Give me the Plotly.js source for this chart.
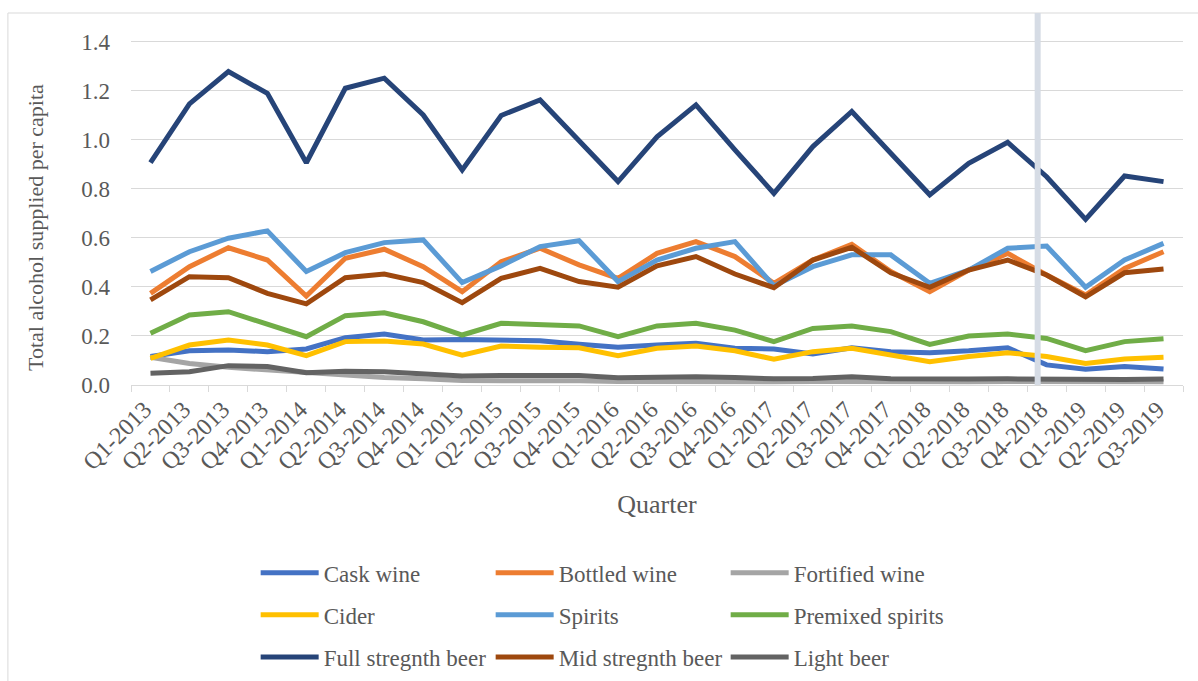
<!DOCTYPE html>
<html>
<head>
<meta charset="utf-8">
<script src="https://cdn.plot.ly/plotly-3.0.1.min.js"></script>
<style>
  html, body { margin: 0; padding: 0; background: #ffffff; }
  #chart { width: 1198px; height: 681px; }
</style>
</head>
<body>
<div id="chart"></div>
<script>
const quarters = ["Q1-2013","Q2-2013","Q3-2013","Q4-2013","Q1-2014","Q2-2014","Q3-2014","Q4-2014",
  "Q1-2015","Q2-2015","Q3-2015","Q4-2015","Q1-2016","Q2-2016","Q3-2016","Q4-2016",
  "Q1-2017","Q2-2017","Q3-2017","Q4-2017","Q1-2018","Q2-2018","Q3-2018","Q4-2018",
  "Q1-2019","Q2-2019","Q3-2019"];

const caskWine = [0.116,0.140,0.143,0.136,0.147,0.193,0.208,0.184,0.186,0.184,0.181,0.166,0.154,0.163,0.170,0.150,0.147,0.127,0.152,0.136,0.132,0.140,0.152,0.082,0.064,0.075,0.065];
const bottledWine = [0.374,0.483,0.560,0.510,0.363,0.517,0.554,0.483,0.381,0.503,0.558,0.490,0.435,0.537,0.585,0.524,0.415,0.510,0.574,0.463,0.381,0.469,0.537,0.449,0.367,0.476,0.544];
const fortifiedWine = [0.113,0.088,0.072,0.061,0.048,0.038,0.031,0.026,0.018,0.017,0.018,0.017,0.014,0.015,0.016,0.015,0.013,0.014,0.015,0.013,0.012,0.013,0.014,0.013,0.011,0.012,0.013];
const cider = [0.109,0.163,0.184,0.163,0.120,0.177,0.180,0.167,0.122,0.159,0.154,0.152,0.120,0.150,0.159,0.140,0.105,0.136,0.150,0.122,0.095,0.116,0.132,0.116,0.088,0.106,0.113];
const spirits = [0.463,0.544,0.599,0.629,0.463,0.540,0.581,0.592,0.418,0.486,0.565,0.589,0.422,0.510,0.558,0.585,0.404,0.483,0.531,0.531,0.415,0.469,0.558,0.567,0.399,0.510,0.578];
const premixedSpirits = [0.211,0.286,0.299,0.249,0.197,0.283,0.295,0.258,0.204,0.252,0.248,0.241,0.197,0.241,0.252,0.224,0.177,0.231,0.241,0.218,0.166,0.200,0.208,0.190,0.140,0.177,0.189];
const fullStrengthBeer = [0.907,1.147,1.279,1.190,0.907,1.211,1.252,1.102,0.878,1.100,1.163,1.000,0.830,1.013,1.143,0.959,0.782,0.973,1.116,0.946,0.776,0.905,0.990,0.850,0.676,0.853,0.830];
const midStrengthBeer = [0.347,0.442,0.438,0.374,0.331,0.438,0.453,0.418,0.336,0.435,0.476,0.422,0.399,0.486,0.524,0.453,0.397,0.510,0.562,0.458,0.399,0.469,0.510,0.449,0.360,0.458,0.473];
const lightBeer = [0.048,0.054,0.079,0.075,0.050,0.056,0.054,0.048,0.037,0.039,0.041,0.039,0.030,0.034,0.034,0.031,0.025,0.027,0.034,0.025,0.023,0.024,0.025,0.023,0.020,0.022,0.024];

const yTicks = [0, 0.2, 0.4, 0.6, 0.8, 1.0, 1.2, 1.4];

const seriesNames = ["Cask wine","Bottled wine","Fortified wine","Cider","Spirits","Premixed spirits","Full stregnth beer","Mid stregnth beer","Light beer"];
const seriesValues = [caskWine, bottledWine, fortifiedWine, cider, spirits, premixedSpirits, fullStrengthBeer, midStrengthBeer, lightBeer];
const seriesColors = ["#4472c4","#ed7d31","#a5a5a5","#ffc000","#5b9bd5","#70ad47","#264478","#9e480e","#636363"];
const legendIds = ["legend","legend","legend","legend2","legend2","legend2","legend3","legend3","legend3"];

const FONT = "Liberation Serif, Times New Roman, serif";
const TXT = "#595959";

const traces = seriesNames.map((name, i) => ({
  type: "scatter",
  mode: "lines",
  name: name,
  x: quarters,
  y: seriesValues[i],
  line: { color: seriesColors[i], width: 5 },
  legend: legendIds[i],
  hoverinfo: "x+y+name"
}));

function legendRow(yPaper) {
  return {
    orientation: "h",
    x: 0.1185, xanchor: "left",
    y: yPaper, yanchor: "middle",
    bgcolor: "rgba(0,0,0,0)",
    font: { family: FONT, size: 23, color: TXT },
    itemwidth: 58,
    entrywidth: 162, entrywidthmode: "pixels",
    traceorder: "normal"
  };
}

const layout = {
  width: 1198, height: 681,
  margin: { l: 131, r: 15, t: 13, b: 296, autoexpand: false },
  paper_bgcolor: "#ffffff",
  plot_bgcolor: "#ffffff",
  font: { family: FONT, color: TXT },
  showlegend: true,
  xaxis: {
    type: "category",
    range: [-0.5, 26.5],
    tickangle: -45,
    tickfont: { family: FONT, size: 24, color: TXT },
    ticklabelshift: -6,
    showgrid: false,
    showline: true, linecolor: "#d9d9d9", linewidth: 1,
    ticks: "outside", tickson: "boundaries", ticklen: 6, tickcolor: "#d9d9d9",
    title: { text: "Quarter", font: { family: FONT, size: 26, color: TXT }, standoff: 20 },
    zeroline: false,
    automargin: false
  },
  yaxis: {
    range: [0, 1.518],
    tickvals: yTicks,
    tickformat: ".1f",
    tickfont: { family: FONT, size: 23, color: TXT },
    showgrid: true, gridcolor: "#d9d9d9", gridwidth: 1,
    zeroline: false, showline: false, ticks: "",
    ticklabelstandoff: 20,
    automargin: false
  },
  legend: legendRow(-0.505),
  legend2: legendRow(-0.618),
  legend3: legendRow(-0.731),
  annotations: [{
    text: "Total alcohol supplied per capita",
    xref: "paper", yref: "paper",
    x: -0.0913, y: 0.4247,
    xanchor: "center", yanchor: "middle",
    textangle: -90, showarrow: false,
    font: { family: FONT, size: 22, color: TXT }
  }],
  shapes: [
    { type: "rect", xref: "paper", yref: "paper", x0: -0.117, x1: 1.03, y0: -0.82, y1: 1.0,
      line: { color: "#d9d9d9", width: 1 }, fillcolor: "rgba(0,0,0,0)", layer: "below" },
    { type: "line", xref: "x", yref: "paper", x0: 22.77, x1: 22.77, y0: 0, y1: 1,
      line: { color: "#d6dce5", width: 6 }, layer: "above" }
  ]
};

Plotly.newPlot("chart", traces, layout, { displayModeBar: false, staticPlot: true });
</script>
</body>
</html>
